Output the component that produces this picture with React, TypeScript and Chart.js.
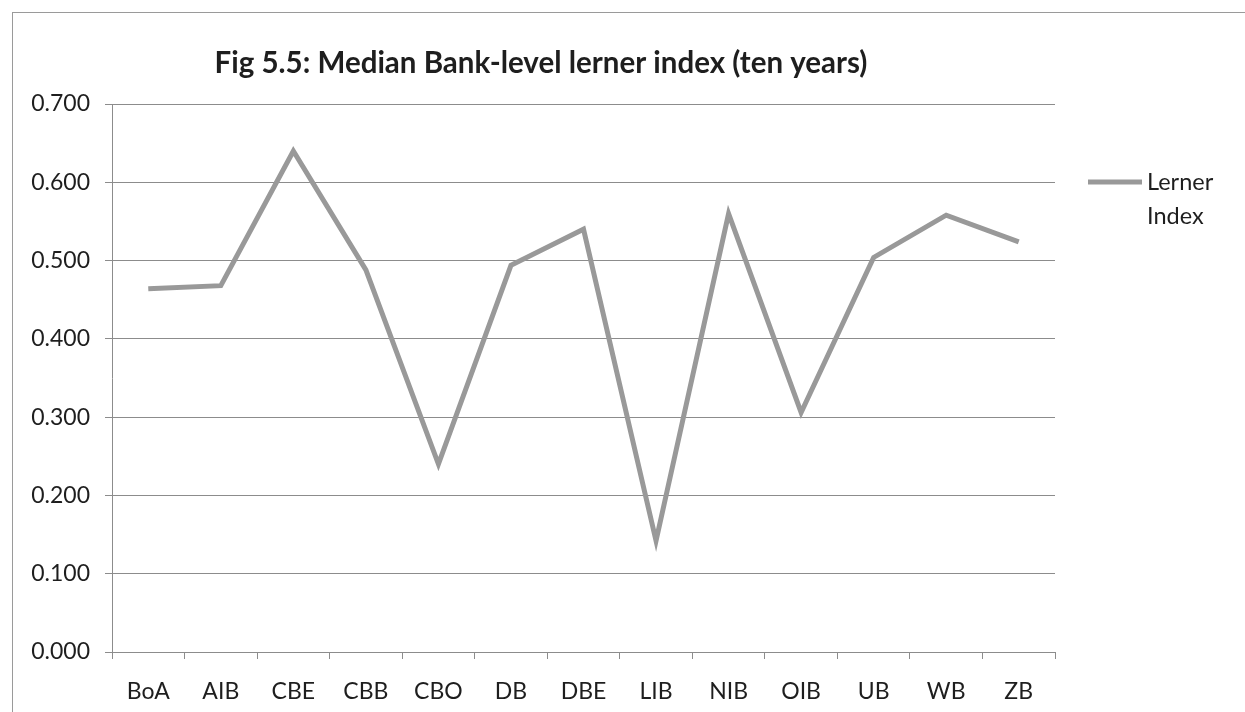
import React, { useEffect, useRef } from "react";
import { Chart, registerables } from "chart.js";

Chart.register(...registerables);

// Banks on the category axis
const banks = ["BoA", "AIB", "CBE", "CBB", "CBO", "DB", "DBE", "LIB", "NIB", "OIB", "UB", "WB", "ZB"];
// Median bank-level Lerner index over ten years
const lernerIndex = [0.464, 0.468, 0.64, 0.488, 0.24, 0.494, 0.54, 0.142, 0.56, 0.306, 0.504, 0.558, 0.524];
// Value axis range
const yMin = 0;
const yMax = 0.7;
const yStep = 0.1;
const seriesName = "Lerner Index";
const legendLines = ["Lerner", "Index"];
const chartTitle = "Fig 5.5: Median Bank-level lerner index (ten years)";

const FONT = "Lato, 'Open Sans', sans-serif";
const LINE_GREY = "#999999";
const GRID_GREY = "#8c8c8c";
const TEXT = "#1e1e1e";

const decorPlugin = {
  id: "titleAndLegend",
  afterDraw(chart: any) {
    const { ctx, chartArea } = chart;
    ctx.save();
    // title
    ctx.fillStyle = TEXT;
    ctx.font = `bold 29.5px ${FONT}`;
    ctx.textAlign = "center";
    ctx.textBaseline = "middle";
    ctx.fillText(chartTitle, 541, 63);

    // legend: sample line + wrapped label
    const ly = 182;
    ctx.strokeStyle = LINE_GREY;
    ctx.lineWidth = 5;
    ctx.lineCap = "butt";
    ctx.beginPath();
    ctx.moveTo(chartArea.right + 33, ly);
    ctx.lineTo(chartArea.right + 87, ly);
    ctx.stroke();
    ctx.font = `23.5px ${FONT}`;
    ctx.textAlign = "left";
    legendLines.forEach((t, i) => ctx.fillText(t, chartArea.right + 92, ly + i * 34.5));
    ctx.restore();
  },
};

export default function App() {
  const ref = useRef<HTMLCanvasElement | null>(null);

  useEffect(() => {
    if (!ref.current) return;
    const chart = new Chart(ref.current, {
      type: "line",
      data: {
        labels: banks,
        datasets: [
          {
            label: seriesName,
            data: lernerIndex,
            borderColor: LINE_GREY,
            borderWidth: 5,
            pointRadius: 0,
            tension: 0,
            fill: false,
            borderJoinStyle: "miter",
          },
        ],
      },
      options: {
        animation: false,
        responsive: false,
        devicePixelRatio: 1,
        layout: { padding: { left: 0, top: 104, right: 190, bottom: 0 } },
        plugins: {
          legend: { display: false },
          title: { display: false },
          tooltip: { enabled: false },
        },
        scales: {
          x: {
            offset: true,
            afterFit: (s: any) => {
              s.height = 60;
            },
            grid: {
              offset: true,
              drawOnChartArea: false,
              drawTicks: true,
              tickLength: 7,
              color: GRID_GREY,
              lineWidth: 1,
            },
            border: { display: true, color: GRID_GREY, width: 1 },
            ticks: {
              color: TEXT,
              font: { family: FONT, size: 23 },
              padding: 19,
              maxRotation: 0,
              autoSkip: false,
            },
          },
          y: {
            min: yMin,
            max: yMax,
            afterFit: (s: any) => {
              s.width = 112;
            },
            grid: {
              color: GRID_GREY,
              lineWidth: 1,
              drawTicks: true,
              tickLength: 7,
            },
            border: { display: true, color: GRID_GREY, width: 1 },
            ticks: {
              stepSize: yStep,
              color: TEXT,
              font: { family: FONT, size: 23 },
              padding: 15,
              callback: (v: any) => Number(v).toFixed(3),
            },
          },
        },
      },
      plugins: [decorPlugin],
    });
    return () => chart.destroy();
  }, []);

  return (
    <div
      style={{
        position: "absolute",
        left: 0,
        top: 0,
        width: 1245,
        height: 712,
        background: "#ffffff",
        overflow: "hidden",
      }}
    >
      <div
        style={{
          position: "absolute",
          left: 12,
          top: 12,
          right: 0,
          bottom: 0,
          borderTop: "1px solid #9a9a9a",
          borderLeft: "1px solid #9a9a9a",
        }}
      />
      <canvas ref={ref} width={1245} height={712} style={{ position: "absolute", left: 0, top: 0 }} />
    </div>
  );
}
